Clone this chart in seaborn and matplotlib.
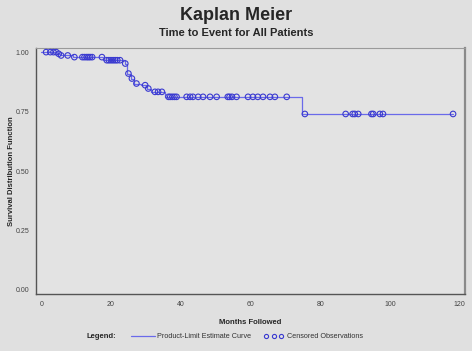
import numpy as np
import pandas as pd
import matplotlib
matplotlib.use("Agg")
import matplotlib.pyplot as plt
from matplotlib.lines import Line2D
import seaborn as sns

# Kaplan-Meier step curve: event times (months) and survival after each event
event_times = [0, 4.6, 5.4, 9.0, 17.6, 23.9, 24.6, 25.7, 26.6, 28.5, 30.3, 31.5, 35.6, 74.7]
survival = [1.0, 0.993, 0.986, 0.979, 0.966, 0.952, 0.910, 0.889, 0.868, 0.861, 0.847, 0.833, 0.812, 0.740]

# censored observation times (months)
censored_times = [1.4, 2.6, 3.5, 4.3, 5.0, 5.7, 7.6, 9.5, 11.8, 12.4, 13.0, 13.5, 14.0, 14.6, 17.4,
                  18.8, 19.4, 20.0, 20.6, 21.2, 21.8, 22.6, 24.1, 25.0, 26.0, 27.3, 29.8, 30.7,
                  32.6, 33.5, 34.6, 36.5, 37.0, 37.6, 38.2, 38.8, 41.7, 42.7, 43.5, 45.0, 46.4,
                  48.4, 50.3, 53.5, 54.0, 54.7, 56.0, 59.3, 60.7, 62.1, 63.6, 65.6, 67.0, 70.4,
                  75.6, 87.3, 89.3, 89.9, 90.9, 94.7, 95.2, 97.1, 98.0, 118.1]

x_ticks = [0, 20, 40, 60, 80, 100, 120]
y_ticks = [0.0, 0.25, 0.50, 0.75, 1.00]

sns.set_style("white")
plt.rcParams['font.family'] = ['Liberation Sans', 'DejaVu Sans']

bg = "#e0e0e0"
line_col = "#6a6aea"
mark_col = "#3a3ad0"

curve = pd.DataFrame({"t": event_times + [max(censored_times)],
                      "s": survival + [survival[-1]]})
idx = np.searchsorted(event_times, censored_times, side="right") - 1
cens = pd.DataFrame({"t": censored_times, "s": np.array(survival)[idx]})

fig = plt.figure(figsize=(4.72, 3.51), dpi=100, facecolor=bg)
ax = fig.add_axes([0.0763, 0.1624, 0.9087, 0.7006])
ax.set_facecolor("#e3e3e3")

sns.lineplot(data=curve, x="t", y="s", drawstyle="steps-post", color=line_col,
             linewidth=0.9, ax=ax)
sns.scatterplot(data=cens, x="t", y="s", marker="o", s=16, facecolor="none",
                edgecolor=mark_col, linewidth=0.8, ax=ax, zorder=3)

ax.set_xlim(-1.5, 121.5)
ax.set_ylim(-0.017, 1.017)
ax.set_xticks(x_ticks)
ax.set_yticks(y_ticks)
ax.set_xticklabels([str(v) for v in x_ticks])
ax.set_yticklabels(["%.2f" % v for v in y_ticks])
ax.tick_params(axis="both", direction="out", length=3, width=0.8, labelsize=5,
               colors="#333333", pad=2)
ax.tick_params(axis="both", labelcolor="#444444")

for side in ["left", "bottom"]:
    ax.spines[side].set_color("#555555")
    ax.spines[side].set_linewidth(1.0)
ax.spines["top"].set_color("#9a9a9a")
ax.spines["top"].set_linewidth(0.8)
ax.spines["right"].set_color("#8a8a8a")
ax.spines["right"].set_linewidth(1.6)

ax.set_xlabel("Months Followed", fontsize=5.5, fontweight="bold", labelpad=8)
ax.set_ylabel("Survival Distribution Function", fontsize=5.5, fontweight="bold")
ax.yaxis.set_label_coords(-0.050, 0.5)

fig.text(0.5, 0.955, "Kaplan Meier", ha="center", va="center", fontsize=13, fontweight="bold")
fig.text(0.5, 0.905, "Time to Event for All Patients", ha="center", va="center",
         fontsize=8, fontweight="bold")

fig.text(0.183, 0.040, "Legend:", ha="left", va="center", fontsize=5.5, fontweight="bold")
leg1 = fig.legend([Line2D([], [], color=line_col, linewidth=0.9)],
                  ["Product-Limit Estimate Curve"],
                  loc="center left", bbox_to_anchor=(0.278, 0.040), frameon=False,
                  fontsize=5.2, handlelength=3.3, handletextpad=0.3, borderpad=0,
                  borderaxespad=0, labelcolor="#333333")
leg2 = fig.legend([Line2D([], [], color=mark_col, marker="o", linestyle="none", markersize=3,
                          markerfacecolor="none", markeredgewidth=0.8)],
                  ["Censored Observations"],
                  loc="center left", bbox_to_anchor=(0.560, 0.040), frameon=False,
                  fontsize=5.2, numpoints=3, handlelength=2.6, handletextpad=0.6, borderpad=0,
                  borderaxespad=0, labelcolor="#333333")

fig.savefig("out.png", dpi=100, facecolor=bg)
